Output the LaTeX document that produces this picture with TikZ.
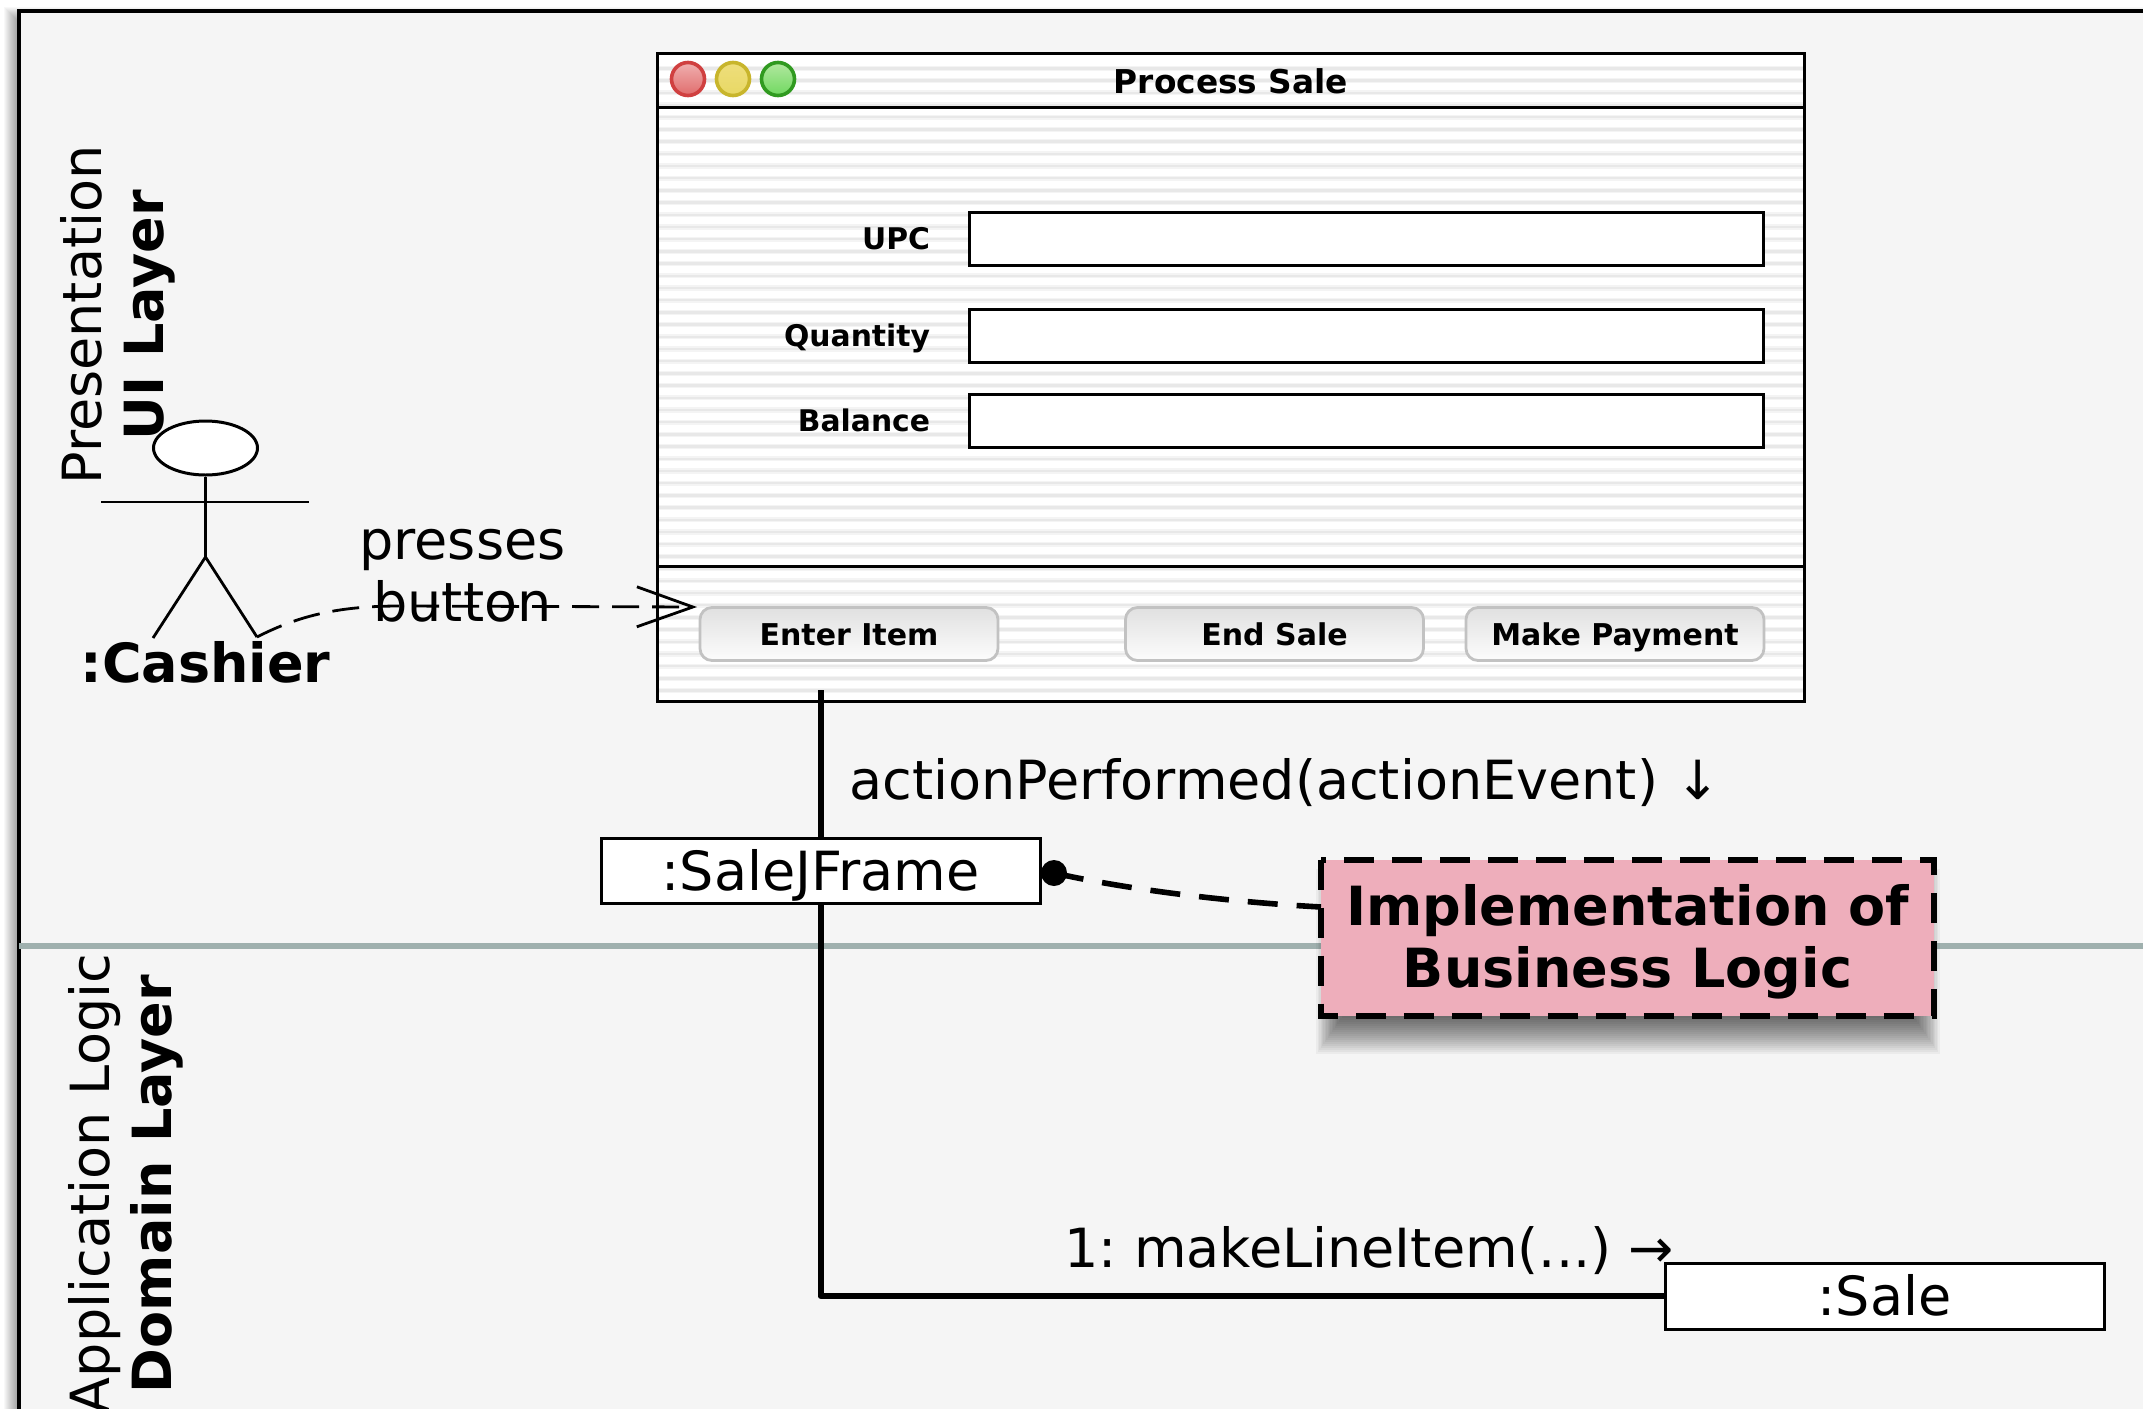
\documentclass[tikz,border=0pt]{standalone}
\usepackage{fontspec}
\setmainfont{DejaVu Sans}
\usetikzlibrary{arrows.meta,backgrounds,shapes.geometric}
\pgfdeclarelayer{bgl}
\pgfdeclarelayer{conn}
\pgfsetlayers{bgl,conn,main}
\frenchspacing
\definecolor{framebg}{HTML}{F5F5F5}
\definecolor{notepink}{HTML}{EEAEBB}
\definecolor{sepline}{HTML}{9FB0AE}
\definecolor{stripe}{HTML}{E8E8E8}
\definecolor{stripeb}{HTML}{F4F4F4}
\tikzset{
  big/.style={font=\fontsize{27}{31}\selectfont,align=center,inner sep=0pt},
  bigb/.style={font=\fontsize{27}{31}\selectfont\bfseries,align=center,inner sep=0pt},
  small/.style={font=\fontsize{14.9}{18}\selectfont\bfseries,inner sep=0pt,text height=11pt,text depth=0pt},
  fieldbox/.style={draw=black,fill=white,line width=1.5pt,rectangle,minimum width=397pt,minimum height=26.5pt,inner sep=0pt},
  btn/.style={draw=black!24,line width=1.4pt,rounded corners=6pt,top color=black!12,bottom color=black!1,rectangle,minimum width=149pt,minimum height=26.5pt,inner sep=0pt,font=\fontsize{15}{18}\selectfont\bfseries,text=black,text height=11.8pt,text depth=0pt},
  objbox/.style={draw=black,fill=white,line width=1.5pt,rectangle,inner sep=0pt,font=\fontsize{27}{31}\selectfont,text height=19.7pt,text depth=0pt},
  msg/.style={draw=black,line width=3pt},
  thinline/.style={draw=black,line width=1.4pt},
  light/.style={circle,line width=1.8pt,minimum size=16.5pt,inner sep=0pt},
}
\begin{document}
\begin{tikzpicture}[x=0.5pt,y=-0.5pt]
\useasboundingbox (0,0) rectangle (2143,1409);
\clip (0,0) rectangle (2143,1409);
\begin{pgfonlayer}{bgl}
  % outer frame and its shadow
  \fill[white] (0,0) rectangle (2143,1409);
  \foreach \d in {1,...,14}{
    \fill[black,opacity=0.028] ({3+\d},{6+\d}) rectangle (2400,1600);
  }
  \fill[framebg] (19,11) rectangle (2400,1600);
  \draw[black,line width=1.6pt] (2400,11) -- (19,11) -- (19,1600);
  \draw[sepline,line width=3pt] (19,946) -- (2143,946);
  % window
  \fill[white] (657,53) rectangle (1804,701);
  \begin{scope}
    \clip (657,53) rectangle (1804,701);
    \foreach \i in {0,...,52}{
      \draw[stripeb,line width=2.6pt] (658,{68.3+12.2*\i}) -- (1803,{68.3+12.2*\i});
      \draw[stripe,line width=1.2pt] (658,{68.3+12.2*\i}) -- (1803,{68.3+12.2*\i});
    }
  \end{scope}
  \draw[black,line width=1.5pt] (657,53) rectangle (1804,701);
  \draw[black,line width=1.5pt] (657,107) -- (1804,107);
  \draw[black,line width=1.5pt] (657,566) -- (1804,566);
\end{pgfonlayer}

\node[light,draw={rgb,255:red,208;green,64;blue,64},top color={rgb,255:red,240;green,176;blue,176},bottom color={rgb,255:red,224;green,108;blue,108}] (red) at (688,79) {};
\node[light,draw={rgb,255:red,200;green,181;blue,44},top color={rgb,255:red,238;green,222;blue,124},bottom color={rgb,255:red,232;green,216;blue,100}] (yellow) at (733,79) {};
\node[light,draw={rgb,255:red,48;green,154;blue,32},top color={rgb,255:red,178;green,232;blue,160},bottom color={rgb,255:red,112;green,216;blue,96}] (green) at (778,79) {};
\node[font=\fontsize{16.4}{20}\selectfont\bfseries,inner sep=0pt] (title) at (1231,81) {Process Sale};

\node[fieldbox] (fupc) at (1366.5,239) {};
\node[fieldbox] (fqty) at (1366.5,336) {};
\node[fieldbox] (fbal) at (1366.5,421) {};
\node[small,anchor=east] (lupc) at (930.5,238.5) {UPC};
\node[small,anchor=east] (lqty) at (930.5,335.5) {Quantity};
\node[small,anchor=east] (lbal) at (930.5,420.5) {Balance};

\node[btn] (benter) at (849,634) {Enter Item};
\node[btn] (bend) at (1274.5,634) {End Sale};
\node[btn] (bpay) at (1615,634) {Make Payment};

% actor
\node[draw=black,fill=white,ellipse,line width=1.5pt,minimum width=52pt,minimum height=27pt,inner sep=0pt] (head) at (205.5,448) {};
\coordinate (hip) at (205.5,557);
\coordinate (armL) at (101,502);
\coordinate (armR) at (309,502);
\coordinate (footL) at (153,638);
\coordinate (footR) at (257,637);
\draw[thinline] (head.south) -- (hip);
\draw[thinline] (armL) -- (armR);
\draw[thinline] (footL) -- (hip) -- (footR);
\node[bigb] (cashier) at (205.5,662.5) {:Cashier};

\node[big] (presses) at (462.5,576) {presses\\button};
\coordinate (tip) at (697,607);
\draw[black,line width=1.4pt,dash pattern=on 13.5pt off 6.5pt,-{Straight Barb[length=28pt,width=20pt,line width=1.4pt]}]
  (footR) .. controls (300,615) and (340,606) .. (400,606) -- (tip);

\node[big,anchor=west] (action) at (849,783) {actionPerformed(actionEvent) ↓};
\node[objbox,minimum width=219.5pt,minimum height=32.5pt] (frame) at (820.5,870.5) {:SaleJFrame};
\node[objbox,minimum width=219.5pt,minimum height=33pt] (sale) at (1884.5,1296) {:Sale};
\node[big,anchor=west] (make) at (1064,1251) {1: makeLineItem(...) →};
\coordinate (start) at (820.5,690);
\begin{pgfonlayer}{conn}
  \draw[msg,line join=round] (start) |- (sale.west);
\end{pgfonlayer}

% note
\foreach \d in {-10,-8,...,28}{
  \fill[black,opacity=0.04] ({1336-0.7*\d},{880-0.4*\d}) rectangle ({1920+0.7*\d},{1026+\d});
}
\node[fill=notepink,rectangle,minimum width=306.5pt,minimum height=78pt,inner sep=0pt,bigb] (note) at (1627.5,938) {\rule{0pt}{24.5pt}Implementation of\\Business Logic};
\draw[black,line width=3pt,dash pattern=on 15pt off 9pt] (note.north west) rectangle (note.south east);
\node[circle,fill=black,minimum size=13pt,inner sep=0pt] (dot) at (1054,873) {};
\coordinate (notein) at (1321,907);
\draw[black,line width=2.8pt,dash pattern=on 15pt off 9.5pt] (dot.center) .. controls (1130,890) and (1230,902) .. (notein);

\node[big,rotate=90] (upper) at (118,315) {Presentation\\\textbf{UI Layer}};
\node[big,rotate=90] (lower) at (126,1184) {Application Logic\\\textbf{Domain Layer}};
\end{tikzpicture}
\end{document}
